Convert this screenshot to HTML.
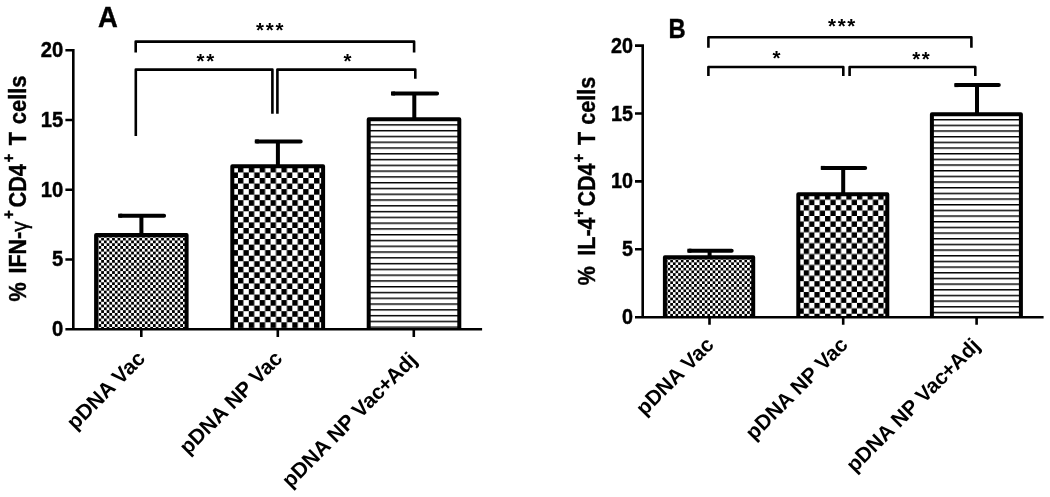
<!DOCTYPE html>
<html lang="en">
<head>
<meta charset="utf-8">
<title>Figure: CD4 T cell responses</title>
<style>
html,body{margin:0;padding:0;background:#fff;}
body{width:1050px;height:497px;overflow:hidden;}
svg{display:block;}
svg text{font-family:"Liberation Sans", Arial, Helvetica, sans-serif;fill:#000;}
</style>
</head>
<body>
<svg width="1050" height="497" viewBox="0 0 1050 497">
<defs><pattern id="fineA" x="98.478" y="324.106" width="5.450" height="5.576" patternUnits="userSpaceOnUse"><rect width="5.450" height="5.576" fill="#fff"/><rect width="2.725" height="2.788" fill="#000"/><rect x="2.725" y="2.788" width="2.725" height="2.788" fill="#000"/></pattern><pattern id="chkA" x="237.950" y="322.300" width="10.870" height="11.100" patternUnits="userSpaceOnUse"><rect width="10.870" height="11.100" fill="#fff"/><rect width="5.435" height="5.550" fill="#000"/><rect x="5.435" y="5.550" width="5.435" height="5.550" fill="#000"/></pattern><pattern id="linA" x="0" y="124.175" width="20" height="5.780" patternUnits="userSpaceOnUse"><rect width="20" height="5.780" fill="#fff"/><rect width="20" height="1.45" fill="#000"/></pattern><pattern id="fineB" x="667.605" y="311.135" width="5.300" height="5.421" patternUnits="userSpaceOnUse"><rect width="5.300" height="5.421" fill="#fff"/><rect width="2.650" height="2.711" fill="#000"/><rect x="2.650" y="2.711" width="2.650" height="2.711" fill="#000"/></pattern><pattern id="chkB" x="803.770" y="313.750" width="10.640" height="10.860" patternUnits="userSpaceOnUse"><rect width="10.640" height="10.860" fill="#fff"/><rect width="5.320" height="5.430" fill="#000"/><rect x="5.320" y="5.430" width="5.320" height="5.430" fill="#000"/></pattern><pattern id="linB" x="0" y="118.975" width="20" height="5.670" patternUnits="userSpaceOnUse"><rect width="20" height="5.670" fill="#fff"/><rect width="20" height="1.45" fill="#000"/></pattern></defs>
<rect width="1050" height="497" fill="#fff"/>
<g id="panelA">
<rect x="96.10" y="235.10" width="90.50" height="94.10" fill="url(#fineA)"/>
<path d="M96.10 329.20V235.10H186.60V329.20" fill="none" stroke="#000" stroke-width="4.0" stroke-linejoin="round"/>
<path d="M141.40 234.10V215.70M120.20 215.70H164.10" fill="none" stroke="#000" stroke-width="4.0" stroke-linecap="round"/>
<path d="M118.20 215.70H122.20" fill="none" stroke="#000" stroke-width="4.0"/>
<rect x="232.30" y="166.30" width="90.80" height="162.90" fill="url(#chkA)"/>
<path d="M232.30 329.20V166.30H323.10V329.20" fill="none" stroke="#000" stroke-width="4.0" stroke-linejoin="round"/>
<path d="M277.90 165.30V141.40M256.80 141.40H300.70" fill="none" stroke="#000" stroke-width="4.0" stroke-linecap="round"/>
<path d="M254.80 141.40H258.80" fill="none" stroke="#000" stroke-width="4.0"/>
<rect x="368.70" y="119.20" width="90.60" height="210.00" fill="url(#linA)"/>
<path d="M368.70 329.20V119.20H459.30V329.20" fill="none" stroke="#000" stroke-width="4.0" stroke-linejoin="round"/>
<path d="M414.30 118.20V93.50M393.00 93.50H437.10" fill="none" stroke="#000" stroke-width="4.0" stroke-linecap="round"/>
<path d="M391.00 93.50H395.00" fill="none" stroke="#000" stroke-width="4.0"/>
<path d="M73.30 48.90V329.20M65.40 50.20H73.30M65.40 119.95H73.30M65.40 189.70H73.30M65.40 259.45H73.30M65.40 329.20H73.30M65.40 329.20H482.10M141.30 329.20V337.00M277.80 329.20V337.00M413.80 329.20V337.00" fill="none" stroke="#000" stroke-width="2.6"/>
<path d="M135.70 52.60V41.60H414.10V52.40M135.80 136.00V69.60H272.40V113.80M277.40 113.80V69.60H415.30V78.80" fill="none" stroke="#000" stroke-width="2.6" stroke-linejoin="round"/>
<text x="260.00" y="36.90" text-anchor="middle" font-size="20.5" font-weight="700">*</text>
<text x="269.70" y="36.90" text-anchor="middle" font-size="20.5" font-weight="700">*</text>
<text x="279.40" y="36.90" text-anchor="middle" font-size="20.5" font-weight="700">*</text>
<text x="200.45" y="67.70" text-anchor="middle" font-size="20.5" font-weight="700">*</text>
<text x="210.15" y="67.70" text-anchor="middle" font-size="20.5" font-weight="700">*</text>
<text x="347.40" y="68.00" text-anchor="middle" font-size="20.5" font-weight="700">*</text>
<text transform="translate(63.30 57.10) scale(0.92 1)" text-anchor="end" font-size="22" font-weight="700" stroke="#000" stroke-width="0.45">20</text>
<text transform="translate(63.30 126.85) scale(0.92 1)" text-anchor="end" font-size="22" font-weight="700" stroke="#000" stroke-width="0.45">15</text>
<text transform="translate(63.30 196.60) scale(0.92 1)" text-anchor="end" font-size="22" font-weight="700" stroke="#000" stroke-width="0.45">10</text>
<text transform="translate(63.30 266.35) scale(0.92 1)" text-anchor="end" font-size="22" font-weight="700" stroke="#000" stroke-width="0.45">5</text>
<text transform="translate(63.30 336.10) scale(0.92 1)" text-anchor="end" font-size="22" font-weight="700" stroke="#000" stroke-width="0.45">0</text>
<text transform="translate(146.30 359.60) rotate(-45)" text-anchor="end" font-size="21.2" font-weight="700">pDNA Vac</text>
<text transform="translate(283.70 359.70) rotate(-45)" text-anchor="end" font-size="21.2" font-weight="700">pDNA NP Vac</text>
<text transform="translate(418.20 361.20) rotate(-45)" text-anchor="end" font-size="21.2" font-weight="700">pDNA NP Vac<tspan dx="-0.7">+</tspan><tspan dx="-0.7">Adj</tspan></text>
<text transform="translate(98.00 27.40) scale(0.96 1)" font-size="28.6" font-weight="700" stroke="#000" stroke-width="0.4">A</text>
<text transform="translate(25.60 301.60) rotate(-90) scale(0.91 1)" font-size="23.74" font-weight="700" stroke="#000" stroke-width="0.4">%</text>
<text transform="translate(25.50 273.40) rotate(-90) scale(0.91 1)" font-size="23.41" font-weight="700" stroke="#000" stroke-width="0.4">IFN-</text>
<text transform="translate(26.80 231.80) rotate(-90) scale(1.0 1)" font-size="21.30" font-weight="400" stroke="#000" stroke-width="0.4">γ</text>
<text transform="translate(14.00 219.00) rotate(-90) scale(0.91 1)" font-size="16.48" font-weight="700" stroke="#000" stroke-width="0.4">+</text>
<text transform="translate(25.50 207.60) rotate(-90) scale(0.91 1)" font-size="23.96" font-weight="700" stroke="#000" stroke-width="0.4">CD4</text>
<text transform="translate(14.00 162.40) rotate(-90) scale(0.91 1)" font-size="16.48" font-weight="700" stroke="#000" stroke-width="0.4">+</text>
<text transform="translate(25.60 145.20) rotate(-90) scale(0.91 1)" font-size="23.96" font-weight="700" stroke="#000" stroke-width="0.4">T</text>
<text transform="translate(25.50 124.20) rotate(-90) scale(0.91 1)" font-size="24.07" font-weight="700" stroke="#000" stroke-width="0.4">cells</text>
</g>
<g id="panelB">
<rect x="664.90" y="257.20" width="88.30" height="60.00" fill="url(#fineB)"/>
<path d="M664.90 317.20V257.20H753.20V317.20" fill="none" stroke="#000" stroke-width="4.0" stroke-linejoin="round"/>
<path d="M709.60 256.20V250.70M689.40 250.70H731.70" fill="none" stroke="#000" stroke-width="4.0" stroke-linecap="round"/>
<path d="M687.40 250.70H691.40" fill="none" stroke="#000" stroke-width="4.0"/>
<rect x="798.30" y="194.20" width="89.00" height="123.00" fill="url(#chkB)"/>
<path d="M798.30 317.20V194.20H887.30V317.20" fill="none" stroke="#000" stroke-width="4.0" stroke-linejoin="round"/>
<path d="M843.20 193.20V167.90M822.80 167.90H865.20" fill="none" stroke="#000" stroke-width="4.0" stroke-linecap="round"/>
<path d="M820.80 167.90H824.80" fill="none" stroke="#000" stroke-width="4.0"/>
<rect x="931.90" y="114.30" width="89.00" height="202.90" fill="url(#linB)"/>
<path d="M931.90 317.20V114.30H1020.90V317.20" fill="none" stroke="#000" stroke-width="4.0" stroke-linejoin="round"/>
<path d="M977.00 113.30V85.10M956.40 85.10H998.80" fill="none" stroke="#000" stroke-width="4.0" stroke-linecap="round"/>
<path d="M954.40 85.10H958.40" fill="none" stroke="#000" stroke-width="4.0"/>
<path d="M642.70 44.30V317.20M635.00 45.60H642.70M635.00 113.50H642.70M635.00 181.40H642.70M635.00 249.30H642.70M635.00 317.20H642.70M635.00 317.20H1043.60M709.50 317.20V324.80M843.20 317.20V324.80M976.60 317.20V324.80" fill="none" stroke="#000" stroke-width="2.6"/>
<path d="M708.40 47.70V37.20H971.40V47.70M708.40 76.00V67.00H843.30V76.00M849.60 76.00V67.00H975.30V76.00" fill="none" stroke="#000" stroke-width="2.6" stroke-linejoin="round"/>
<text x="832.04" y="33.00" text-anchor="middle" font-size="20.5" font-weight="700">*</text>
<text x="841.70" y="33.00" text-anchor="middle" font-size="20.5" font-weight="700">*</text>
<text x="851.36" y="33.00" text-anchor="middle" font-size="20.5" font-weight="700">*</text>
<text x="776.50" y="65.20" text-anchor="middle" font-size="20.5" font-weight="700">*</text>
<text x="916.17" y="66.30" text-anchor="middle" font-size="20.5" font-weight="700">*</text>
<text x="925.83" y="66.30" text-anchor="middle" font-size="20.5" font-weight="700">*</text>
<text transform="translate(633.00 52.60) scale(0.92 1)" text-anchor="end" font-size="21.5" font-weight="700" stroke="#000" stroke-width="0.45">20</text>
<text transform="translate(633.00 120.50) scale(0.92 1)" text-anchor="end" font-size="21.5" font-weight="700" stroke="#000" stroke-width="0.45">15</text>
<text transform="translate(633.00 188.40) scale(0.92 1)" text-anchor="end" font-size="21.5" font-weight="700" stroke="#000" stroke-width="0.45">10</text>
<text transform="translate(633.00 256.30) scale(0.92 1)" text-anchor="end" font-size="21.5" font-weight="700" stroke="#000" stroke-width="0.45">5</text>
<text transform="translate(633.00 324.20) scale(0.92 1)" text-anchor="end" font-size="21.5" font-weight="700" stroke="#000" stroke-width="0.45">0</text>
<text transform="translate(715.00 346.00) rotate(-45)" text-anchor="end" font-size="21" font-weight="700">pDNA Vac</text>
<text transform="translate(849.00 346.00) rotate(-45)" text-anchor="end" font-size="21" font-weight="700">pDNA NP Vac</text>
<text transform="translate(981.20 346.80) rotate(-45)" text-anchor="end" font-size="21" font-weight="700">pDNA NP Vac<tspan dx="-0.7">+</tspan><tspan dx="-0.7">Adj</tspan></text>
<text transform="translate(668.50 37.70) scale(0.87 1)" font-size="27.3" font-weight="700" stroke="#000" stroke-width="0.4">B</text>
<text transform="translate(594.80 285.20) rotate(-90) scale(0.93 1)" font-size="23.12" font-weight="700" stroke="#000" stroke-width="0.4">%</text>
<text transform="translate(594.70 255.70) rotate(-90) scale(0.93 1)" font-size="23.12" font-weight="700" stroke="#000" stroke-width="0.4">IL-4</text>
<text transform="translate(583.80 217.40) rotate(-90) scale(0.93 1)" font-size="16.13" font-weight="700" stroke="#000" stroke-width="0.4">+</text>
<text transform="translate(594.70 206.60) rotate(-90) scale(0.93 1)" font-size="23.23" font-weight="700" stroke="#000" stroke-width="0.4">CD4</text>
<text transform="translate(583.80 162.40) rotate(-90) scale(0.93 1)" font-size="16.13" font-weight="700" stroke="#000" stroke-width="0.4">+</text>
<text transform="translate(594.80 145.00) rotate(-90) scale(0.93 1)" font-size="23.12" font-weight="700" stroke="#000" stroke-width="0.4">T</text>
<text transform="translate(594.70 124.70) rotate(-90) scale(0.93 1)" font-size="23.23" font-weight="700" stroke="#000" stroke-width="0.4">cells</text>
</g>
</svg>
</body>
</html>
